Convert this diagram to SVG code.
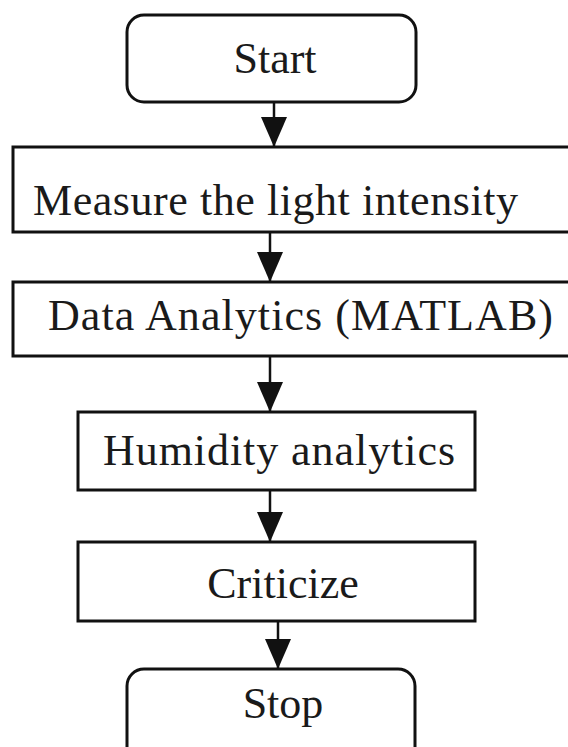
<svg xmlns="http://www.w3.org/2000/svg" width="568" height="747" viewBox="0 0 568 747">
  <style>
    .box { fill: #ffffff; stroke: #111111; stroke-width: 3; }
    .lbl { font-family: "Liberation Serif", "Times New Roman", serif; font-size: 44px; fill: #1a1a1a; text-anchor: middle; }
    .lbl-s { font-family: "Liberation Serif", "Times New Roman", serif; font-size: 44px; fill: #1a1a1a; }
    .conn { stroke: #111111; stroke-width: 2.5; fill: none; marker-end: url(#arrow); }
  </style>
  <defs>
    <marker id="arrow" markerUnits="userSpaceOnUse" markerWidth="30" markerHeight="26" viewBox="0 0 30 26" refX="29" refY="13" orient="auto">
      <path d="M0,0 L30,13 L0,26 Z" fill="#111111"/>
    </marker>
  </defs>
  <rect width="568" height="747" fill="#ffffff"/>

  <g id="connectors">
    <line class="conn" x1="274" y1="102" x2="274" y2="146"/>
    <line class="conn" x1="270" y1="232" x2="270" y2="281"/>
    <line class="conn" x1="270" y1="356" x2="270" y2="411"/>
    <line class="conn" x1="270" y1="490" x2="270" y2="541"/>
    <line class="conn" x1="278" y1="621" x2="278" y2="668"/>
  </g>

  <g id="start">
    <rect class="box" x="127" y="15" width="289" height="87" rx="17" ry="17"/>
    <text class="lbl" x="275" y="73">Start</text>
  </g>

  <g id="measure">
    <rect class="box" x="13" y="147" width="600" height="85"/>
    <text class="lbl-s" x="33" y="215" textLength="485" lengthAdjust="spacing">Measure the light intensity</text>
  </g>

  <g id="data">
    <rect class="box" x="13" y="282" width="600" height="74"/>
    <text class="lbl-s" x="48" y="330" textLength="505" lengthAdjust="spacing">Data Analytics (MATLAB)</text>
  </g>

  <g id="humidity">
    <rect class="box" x="78" y="412" width="397" height="78"/>
    <text class="lbl-s" x="103" y="465" textLength="352" lengthAdjust="spacing">Humidity analytics</text>
  </g>

  <g id="criticize">
    <rect class="box" x="78" y="542" width="397" height="79"/>
    <text class="lbl" x="283" y="598">Criticize</text>
  </g>

  <g id="stop">
    <rect class="box" x="127" y="669" width="288" height="110" rx="17" ry="17"/>
    <text class="lbl" x="283" y="718">Stop</text>
  </g>
</svg>
